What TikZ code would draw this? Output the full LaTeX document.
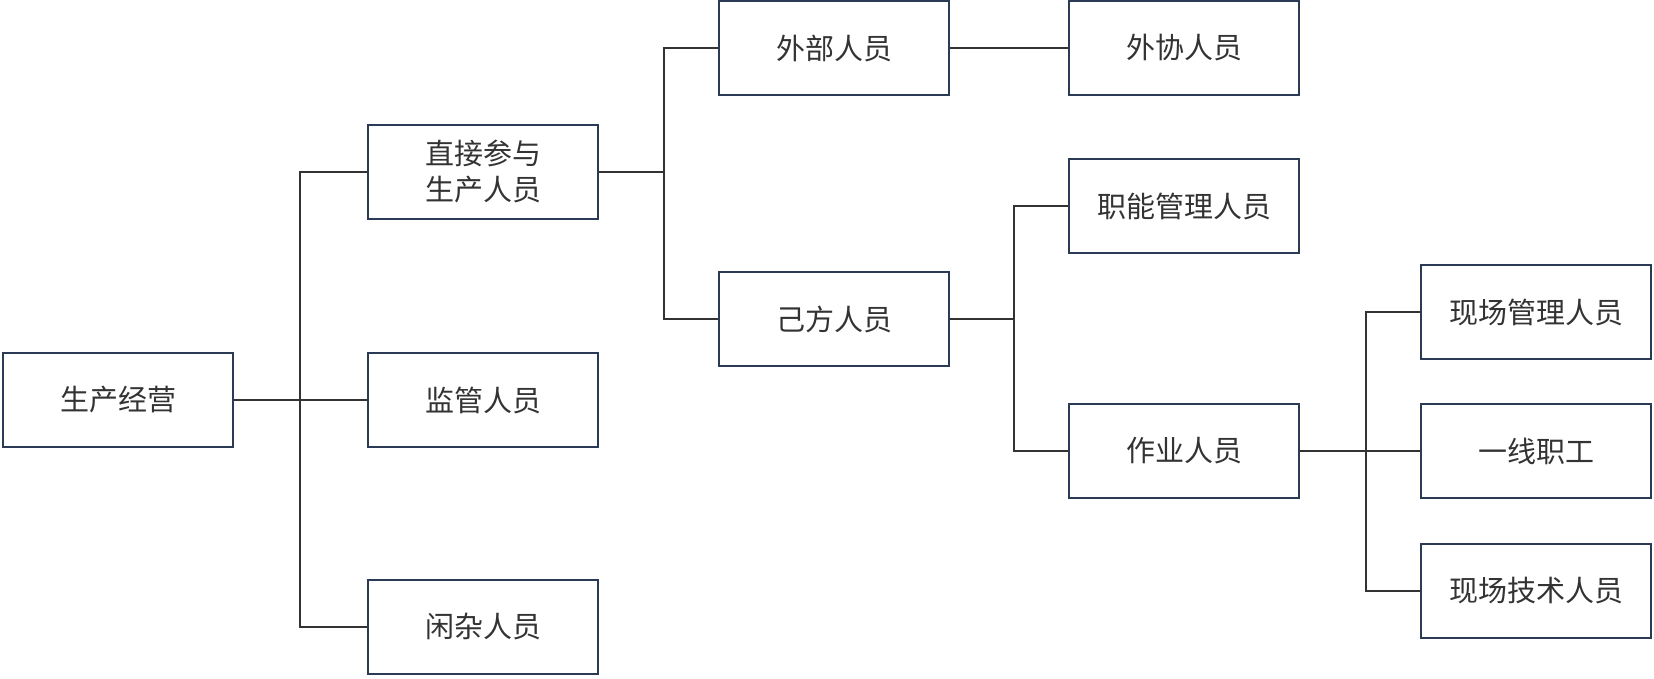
\documentclass[tikz,border=0pt]{standalone}
\usepackage{fontspec}
\newfontfamily\cjk{Noto Sans CJK SC}
\usetikzlibrary{calc}
\definecolor{boxline}{HTML}{2B3A55}
\definecolor{txt}{HTML}{333333}

\begin{document}
\begin{tikzpicture} [x=1pt, y=-1pt,
  box/.style={draw=boxline, line width=2.2pt, minimum width=230pt, minimum height=94pt,
    inner sep=0pt, align=center, text=txt, font=\cjk\fontsize{29}{36}\selectfont},
  conn/.style={draw=txt, line width=2pt}]
\useasboundingbox (0,0) rectangle (1654,679);

\node[box] (root) at (118,400) {生产经营};

\node[box] (zhijie) at (483,172) {直接参与\\生产人员};
\node[box] (jianguan) at (483,400) {监管人员};
\node[box] (xianza) at (483,627) {闲杂人员};

\node[box] (waibu) at (834,48) {外部人员};
\node[box] (jifang) at (834,319) {己方人员};

\node[box] (waixie) at (1184,48) {外协人员};
\node[box] (zhineng) at (1184,206) {职能管理人员};
\node[box] (zuoye) at (1184,451) {作业人员};

\node[box] (xcgl) at (1536,312) {现场管理人员};
\node[box] (yxzg) at (1536,451) {一线职工};
\node[box] (xcjs) at (1536,591) {现场技术人员};

\coordinate (b1) at (300,400);
\coordinate (b2) at (664,172);
\coordinate (b3) at (1014,319);
\coordinate (b4) at (1366,451);

\draw[conn] (root) -- (b1);
\foreach \n in {zhijie, jianguan, xianza}
\draw[conn] (b1) |- (\n.west);

\draw[conn] (zhijie) -- (b2);
\foreach \n in {waibu, jifang}
\draw[conn] (b2) |- (\n.west);

\draw[conn] (waibu) -- (waixie);

\draw[conn] (jifang) -- (b3);
\foreach \n in {zhineng, zuoye}
\draw[conn] (b3) |- (\n.west);

\draw[conn] (zuoye) -- (b4);
\foreach \n in {xcgl, yxzg, xcjs}
\draw[conn] (b4) |- (\n.west);

\end{tikzpicture}
\end{document}
